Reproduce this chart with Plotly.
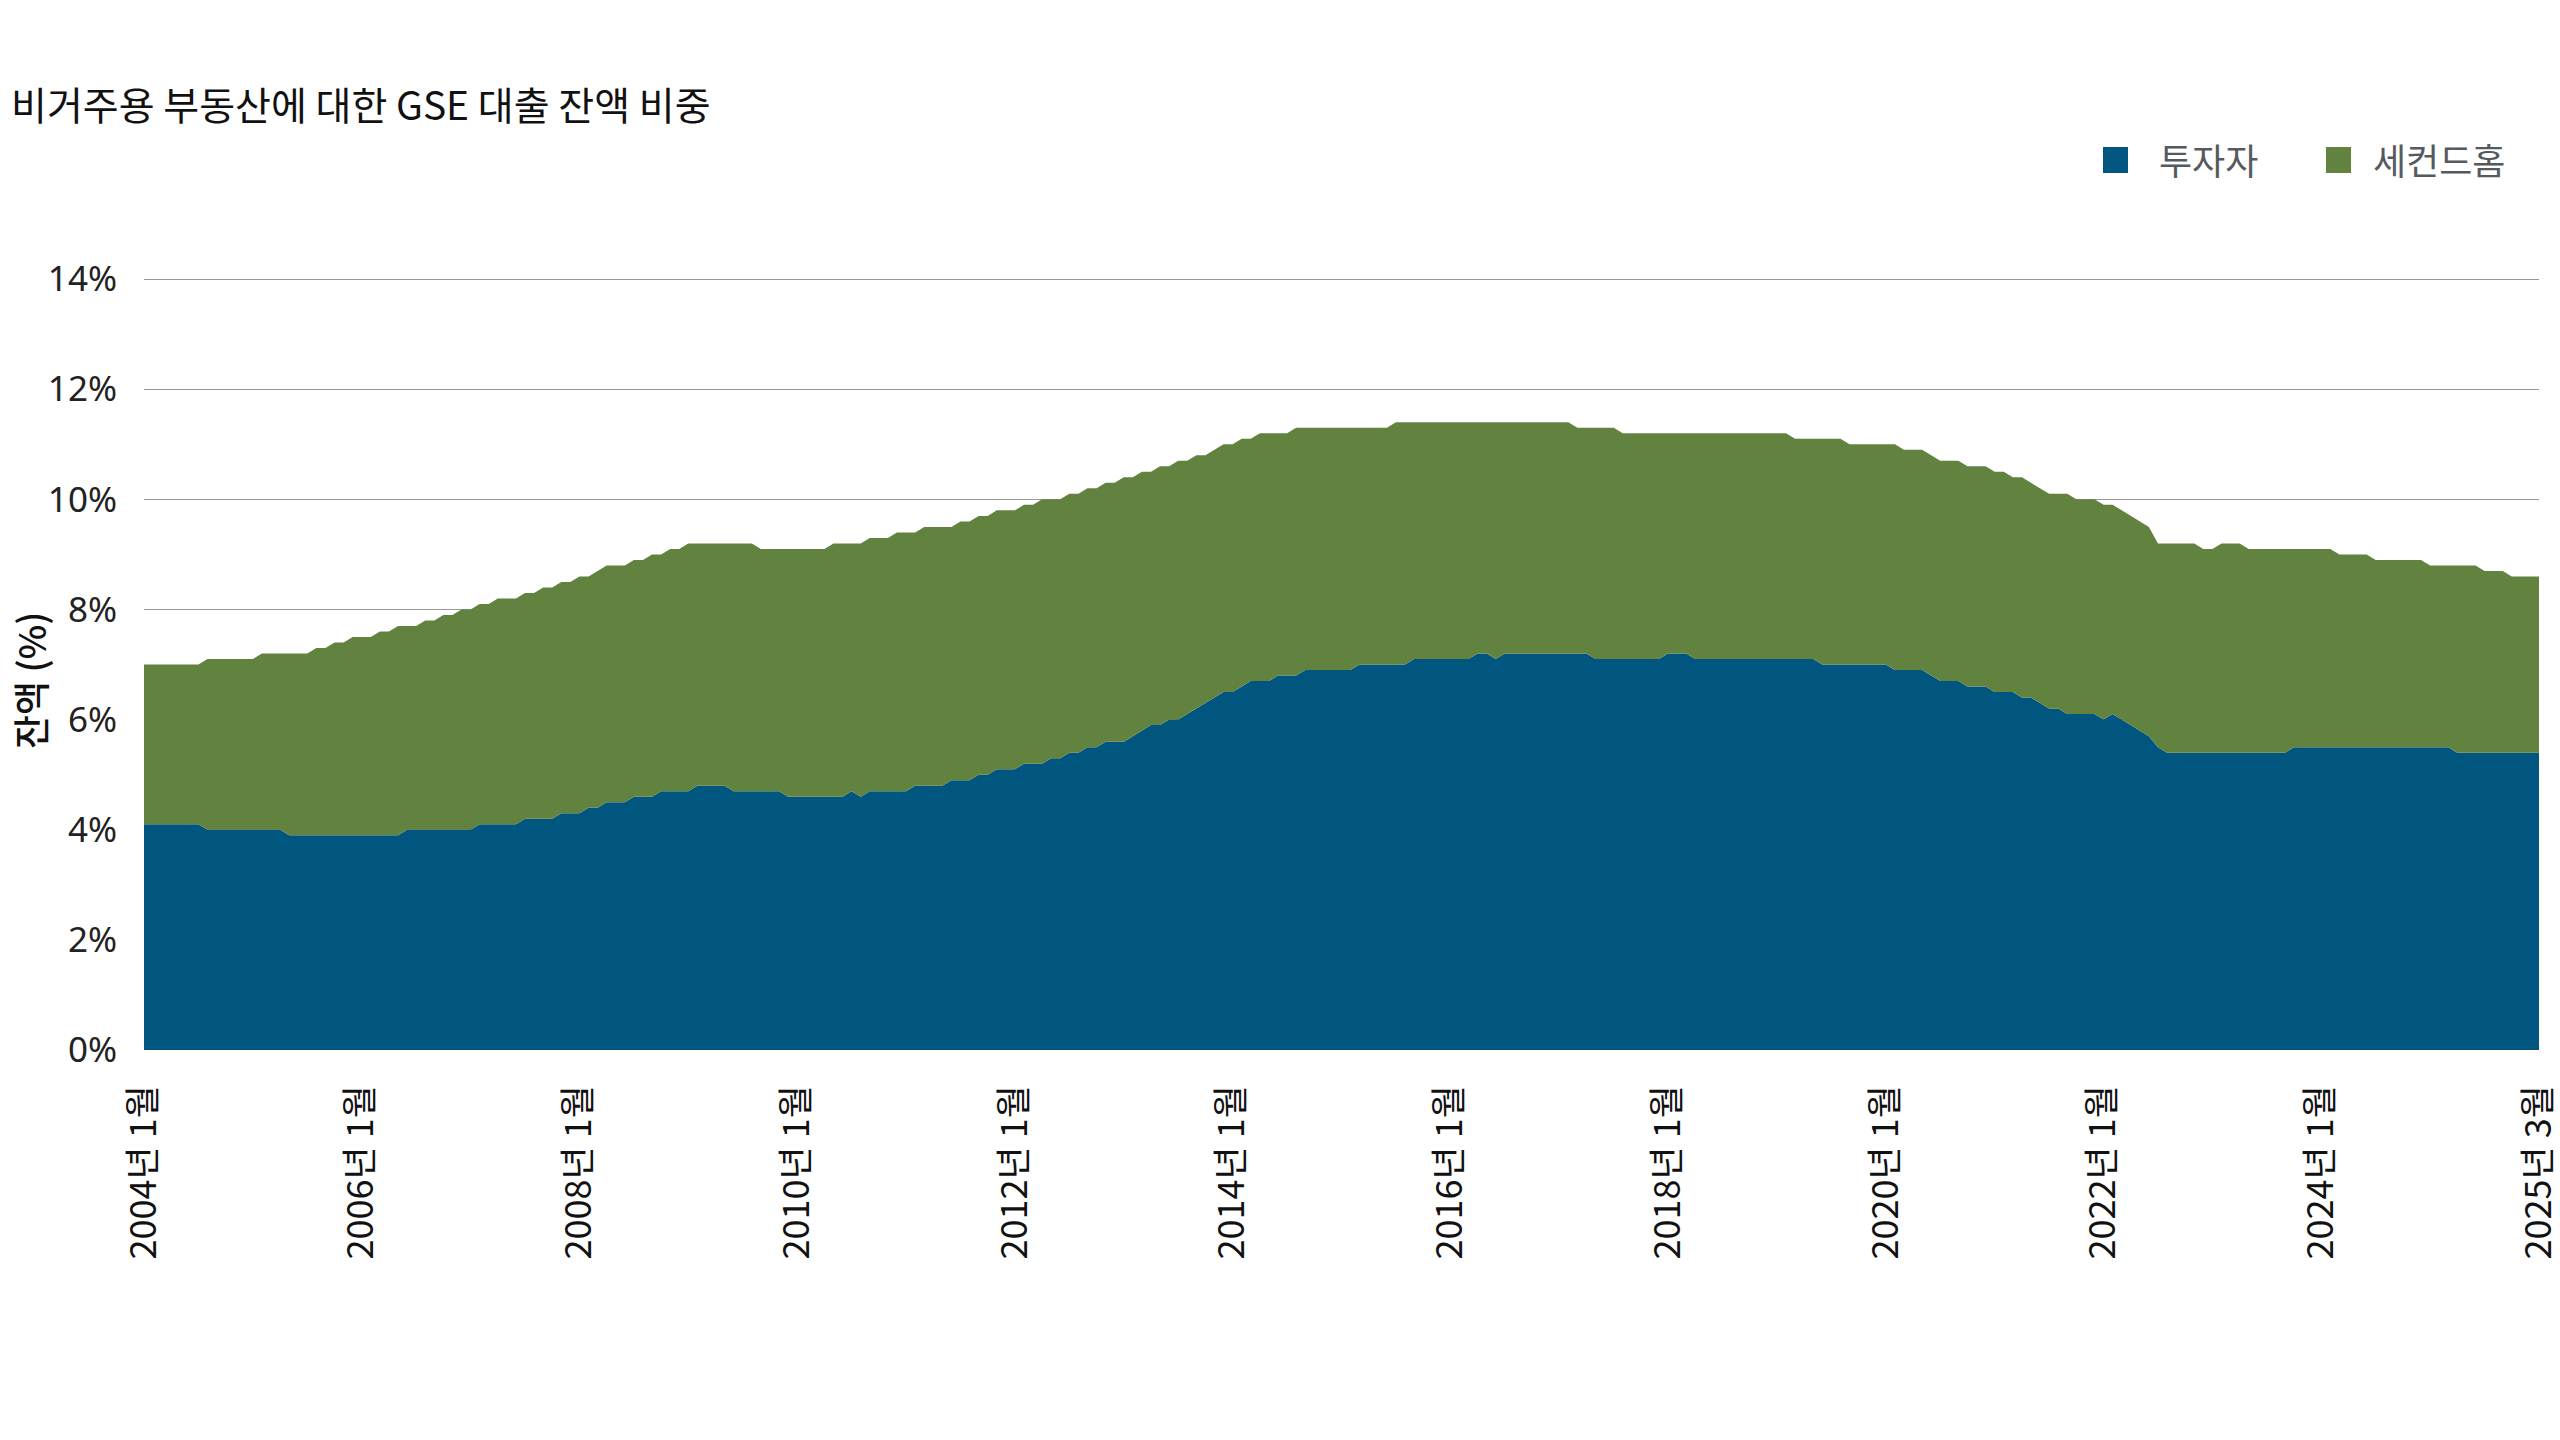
import plotly.graph_objects as go

# 2004년 1월부터 월별, 잔액 비중 (%)
investor_share = [
    4.1, 4.1, 4.1, 4.1, 4.1, 4.1, 4.1, 4.0, 4.0, 4.0, 4.0, 4.0,
    4.0, 4.0, 4.0, 4.0, 3.9, 3.9, 3.9, 3.9, 3.9, 3.9, 3.9, 3.9,
    3.9, 3.9, 3.9, 3.9, 3.9, 4.0, 4.0, 4.0, 4.0, 4.0, 4.0, 4.0,
    4.0, 4.1, 4.1, 4.1, 4.1, 4.1, 4.2, 4.2, 4.2, 4.2, 4.3, 4.3,
    4.3, 4.4, 4.4, 4.5, 4.5, 4.5, 4.6, 4.6, 4.6, 4.7, 4.7, 4.7,
    4.7, 4.8, 4.8, 4.8, 4.8, 4.7, 4.7, 4.7, 4.7, 4.7, 4.7, 4.6,
    4.6, 4.6, 4.6, 4.6, 4.6, 4.6, 4.7, 4.6, 4.7, 4.7, 4.7, 4.7,
    4.7, 4.8, 4.8, 4.8, 4.8, 4.9, 4.9, 4.9, 5.0, 5.0, 5.1, 5.1,
    5.1, 5.2, 5.2, 5.2, 5.3, 5.3, 5.4, 5.4, 5.5, 5.5, 5.6, 5.6,
    5.6, 5.7, 5.8, 5.9, 5.9, 6.0, 6.0, 6.1, 6.2, 6.3, 6.4, 6.5,
    6.5, 6.6, 6.7, 6.7, 6.7, 6.8, 6.8, 6.8, 6.9, 6.9, 6.9, 6.9,
    6.9, 6.9, 7.0, 7.0, 7.0, 7.0, 7.0, 7.0, 7.1, 7.1, 7.1, 7.1,
    7.1, 7.1, 7.1, 7.2, 7.2, 7.1, 7.2, 7.2, 7.2, 7.2, 7.2, 7.2,
    7.2, 7.2, 7.2, 7.2, 7.1, 7.1, 7.1, 7.1, 7.1, 7.1, 7.1, 7.1,
    7.2, 7.2, 7.2, 7.1, 7.1, 7.1, 7.1, 7.1, 7.1, 7.1, 7.1, 7.1,
    7.1, 7.1, 7.1, 7.1, 7.1, 7.0, 7.0, 7.0, 7.0, 7.0, 7.0, 7.0,
    7.0, 6.9, 6.9, 6.9, 6.9, 6.8, 6.7, 6.7, 6.7, 6.6, 6.6, 6.6,
    6.5, 6.5, 6.5, 6.4, 6.4, 6.3, 6.2, 6.2, 6.1, 6.1, 6.1, 6.1,
    6.0, 6.1, 6.0, 5.9, 5.8, 5.7, 5.5, 5.4, 5.4, 5.4, 5.4, 5.4,
    5.4, 5.4, 5.4, 5.4, 5.4, 5.4, 5.4, 5.4, 5.4, 5.5, 5.5, 5.5,
    5.5, 5.5, 5.5, 5.5, 5.5, 5.5, 5.5, 5.5, 5.5, 5.5, 5.5, 5.5,
    5.5, 5.5, 5.5, 5.4, 5.4, 5.4, 5.4, 5.4, 5.4, 5.4, 5.4, 5.4,
    5.4,
]

# 투자자 + 세컨드홈 합계 (그래프 윗선)
total_share = [
    7.0, 7.0, 7.0, 7.0, 7.0, 7.0, 7.0, 7.1, 7.1, 7.1, 7.1, 7.1,
    7.1, 7.2, 7.2, 7.2, 7.2, 7.2, 7.2, 7.3, 7.3, 7.4, 7.4, 7.5,
    7.5, 7.5, 7.6, 7.6, 7.7, 7.7, 7.7, 7.8, 7.8, 7.9, 7.9, 8.0,
    8.0, 8.1, 8.1, 8.2, 8.2, 8.2, 8.3, 8.3, 8.4, 8.4, 8.5, 8.5,
    8.6, 8.6, 8.7, 8.8, 8.8, 8.8, 8.9, 8.9, 9.0, 9.0, 9.1, 9.1,
    9.2, 9.2, 9.2, 9.2, 9.2, 9.2, 9.2, 9.2, 9.1, 9.1, 9.1, 9.1,
    9.1, 9.1, 9.1, 9.1, 9.2, 9.2, 9.2, 9.2, 9.3, 9.3, 9.3, 9.4,
    9.4, 9.4, 9.5, 9.5, 9.5, 9.5, 9.6, 9.6, 9.7, 9.7, 9.8, 9.8,
    9.8, 9.9, 9.9, 10.0, 10.0, 10.0, 10.1, 10.1, 10.2, 10.2, 10.3, 10.3,
    10.4, 10.4, 10.5, 10.5, 10.6, 10.6, 10.7, 10.7, 10.8, 10.8, 10.9, 11.0,
    11.0, 11.1, 11.1, 11.2, 11.2, 11.2, 11.2, 11.3, 11.3, 11.3, 11.3, 11.3,
    11.3, 11.3, 11.3, 11.3, 11.3, 11.3, 11.4, 11.4, 11.4, 11.4, 11.4, 11.4,
    11.4, 11.4, 11.4, 11.4, 11.4, 11.4, 11.4, 11.4, 11.4, 11.4, 11.4, 11.4,
    11.4, 11.4, 11.3, 11.3, 11.3, 11.3, 11.3, 11.2, 11.2, 11.2, 11.2, 11.2,
    11.2, 11.2, 11.2, 11.2, 11.2, 11.2, 11.2, 11.2, 11.2, 11.2, 11.2, 11.2,
    11.2, 11.2, 11.1, 11.1, 11.1, 11.1, 11.1, 11.1, 11.0, 11.0, 11.0, 11.0,
    11.0, 11.0, 10.9, 10.9, 10.9, 10.8, 10.7, 10.7, 10.7, 10.6, 10.6, 10.6,
    10.5, 10.5, 10.4, 10.4, 10.3, 10.2, 10.1, 10.1, 10.1, 10.0, 10.0, 10.0,
    9.9, 9.9, 9.8, 9.7, 9.6, 9.5, 9.2, 9.2, 9.2, 9.2, 9.2, 9.1,
    9.1, 9.2, 9.2, 9.2, 9.1, 9.1, 9.1, 9.1, 9.1, 9.1, 9.1, 9.1,
    9.1, 9.1, 9.0, 9.0, 9.0, 9.0, 8.9, 8.9, 8.9, 8.9, 8.9, 8.9,
    8.8, 8.8, 8.8, 8.8, 8.8, 8.8, 8.7, 8.7, 8.7, 8.6, 8.6, 8.6,
    8.6,
]

tick_labels = ["2004년 1월", "2006년 1월", "2008년 1월", "2010년 1월", "2012년 1월",
               "2014년 1월", "2016년 1월", "2018년 1월", "2020년 1월", "2022년 1월",
               "2024년 1월", "2025년 3월"]
series_names = ["투자자", "세컨드홈"]
series_colors = ["#00567f", "#62823f"]

second_home_share = [round(t - i, 1) for t, i in zip(total_share, investor_share)]
month_idx = list(range(len(investor_share)))
tick_idx = [month_idx[0] + k * 24 for k in range(len(tick_labels))]

W, H = 2560, 1440
L, R, T, B = 144, 21, 278, 390


def px_x(x):
    return (x - L) / (W - L - R)


def px_y(y):
    return (H - B - y) / (H - T - B)


fig = go.Figure()
for name, vals, color in zip(series_names, [investor_share, second_home_share], series_colors):
    fig.add_trace(go.Scatter(
        x=month_idx, y=vals, name=name, stackgroup="one",
        mode="lines", line=dict(width=0, color=color), fillcolor=color,
        showlegend=False,
    ))

fig.update_layout(
    width=W, height=H,
    margin=dict(l=L, r=R, t=T, b=B),
    paper_bgcolor="white", plot_bgcolor="white",
    title=dict(
        text="비거주용 부동산에 대한 GSE 대출 잔액 비중",
        xref="container", yref="container", x=11 / W, y=1 - 106 / H,
        xanchor="left", yanchor="middle",
        font=dict(family="Noto Sans CJK KR", size=39, color="#111111"),
    ),
)

fig.update_xaxes(
    range=[month_idx[0], month_idx[-1]],
    tickmode="array", tickvals=tick_idx, ticktext=tick_labels,
    tickangle=-90, ticks="", ticklabelstandoff=27, ticklabeloverflow="allow",
    tickfont=dict(family="Noto Sans CJK KR", size=36, color="#111111"),
    showgrid=False, zeroline=False, showline=False, automargin=False,
)
fig.update_yaxes(
    range=[0, 14.02], tick0=0, dtick=2, ticksuffix="%",
    ticks="", ticklabelstandoff=26,
    tickfont=dict(family="Noto Sans", size=35, color="#222222"),
    showgrid=True, gridcolor="#999999", gridwidth=1.4,
    zeroline=False, showline=False, automargin=False,
)

# y축 제목
fig.add_annotation(
    text="잔액 (%)", xref="paper", yref="paper", x=px_x(30), y=px_y(680),
    textangle=-90, showarrow=False, xanchor="center", yanchor="middle",
    font=dict(family="Noto Sans CJK KR Medium, Noto Sans CJK KR", size=37, color="#111111"),
)

# 범례 (사각형 + 글자)
legend_items = [(2103, 2157), (2326, 2371)]
for (sq_x, txt_x), name, color in zip(legend_items, series_names, series_colors):
    fig.add_shape(
        type="rect", xref="paper", yref="paper",
        x0=px_x(sq_x), x1=px_x(sq_x + 25), y0=px_y(173), y1=px_y(147),
        fillcolor=color, line=dict(width=0),
    )
    fig.add_annotation(
        text=name, xref="paper", yref="paper", x=px_x(txt_x), y=px_y(159),
        showarrow=False, xanchor="left", yanchor="middle",
        font=dict(family="Noto Sans CJK KR", size=36, color="#555a5f"),
    )

fig.write_html("out.html", config={"displayModeBar": False},
               post_script="document.body.style.margin='0';")
